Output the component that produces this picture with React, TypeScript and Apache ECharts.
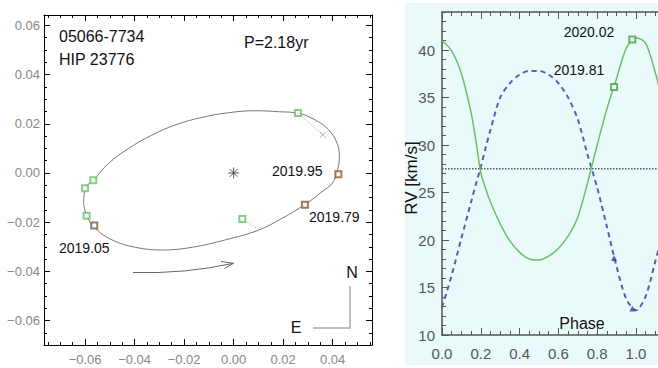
import React, { useEffect, useRef } from 'react';
import * as echarts from 'echarts';

// ---------- Orbit panel data (arcsec) ----------
const orbitX = [-0.0606, -0.0599, -0.0566, -0.0505, -0.0424, -0.0330, -0.0236, -0.0128, -0.0020, 0.0088, 0.0182, 0.0260, 0.0330, 0.0384, 0.0418, 0.0427, 0.0418, 0.0398, 0.0357, 0.0290, 0.0196, 0.0101, -0.0034, -0.0168, -0.0289, -0.0397, -0.0491, -0.0559, -0.0592, -0.0606];
const orbitY = [-0.0123, -0.0062, -0.0028, 0.0039, 0.0100, 0.0154, 0.0195, 0.0226, 0.0245, 0.0253, 0.0249, 0.0243, 0.0215, 0.0175, 0.0121, 0.0066, 0.0005, -0.0042, -0.0076, -0.0127, -0.0184, -0.0232, -0.0272, -0.0302, -0.0313, -0.0302, -0.0272, -0.0225, -0.0178, -0.0123];
const greenObsX = [-0.0567, -0.0600, -0.0594, 0.0260, 0.0035];
const greenObsY = [-0.0030, -0.0062, -0.0174, 0.0244, -0.0187];
const brownObsX = [-0.0563, 0.0288, 0.0423];
const brownObsY = [-0.0213, -0.0129, -0.0005];
const crossObsX = [0.0360];
const crossObsY = [0.0155];
const residFromX = [0.0260, 0.0035];
const residFromY = [0.0244, -0.0187];
const residToX = [0.0360, 0.0101];
const residToY = [0.0155, -0.0229];
const orbitTicks = [-0.06, -0.04, -0.02, 0, 0.02, 0.04, 0.06];

// ---------- RV panel data ----------
const rvPhase = [0, 0.05, 0.10, 0.15, 0.175, 0.20, 0.225, 0.25, 0.30, 0.35, 0.40, 0.45, 0.50, 0.55, 0.60, 0.65, 0.70, 0.75, 0.80, 0.85, 0.90, 0.95, 1.00, 1.05, 1.10, 1.12];
const primaryRV = [41.0, 39.9, 37.5, 33.4, 30.4, 27.1, 25.4, 24.0, 21.7, 19.9, 18.7, 18.0, 17.9, 18.3, 19.1, 20.4, 22.4, 26.0, 30.0, 33.8, 37.0, 40.2, 41.3, 40.7, 37.6, 36.0];
const secondaryRV = [12.9, 16.3, 20.2, 24.0, 25.9, 27.7, 29.7, 31.6, 35.0, 36.5, 37.4, 37.8, 37.8, 37.4, 36.5, 35.0, 32.7, 29.0, 25.5, 21.4, 17.2, 13.8, 12.6, 14.1, 17.8, 19.3];
const primaryObsPhase = [0.887, 0.981];
const primaryObsRV = [36.1, 41.1];
const secondaryObsPhase = [0.887, 0.981];
const secondaryObsRV = [18.1, 12.8];
const gammaRV = 27.5;
const rvPhaseTicks = [0, 0.2, 0.4, 0.6, 0.8, 1.0];
const rvTicks = [10, 15, 20, 25, 30, 35, 40];

const FONT = 'Liberation Sans, Arial, Helvetica, sans-serif';

function minorsOf(major: number[], parts: number): number[] {
  const out: number[] = [];
  for (let i = 0; i < major.length - 1; i++) {
    const step = (major[i + 1] - major[i]) / parts;
    for (let k = 1; k < parts; k++) out.push(+(major[i] + k * step).toFixed(6));
  }
  const s0 = (major[1] - major[0]) / parts;
  for (let k = 1; k < parts; k++) {
    out.push(+(major[0] - k * s0).toFixed(6));
    out.push(+(major[major.length - 1] + k * s0).toFixed(6));
  }
  return out;
}

const pairs = (xs: number[], ys: number[]) => xs.map((x, i) => [x, ys[i]]);

const orbitFmt = (v: number) => (v < -1e-9 ? '\u2212' : '') + Math.abs(v).toFixed(2);

function mkAxis(o: any) {
  const { gridIndex, position, min, max, values, length, label, line, color, width } = o;
  return {
    type: 'value',
    gridIndex,
    position,
    min,
    max,
    axisLine: { show: line, onZero: false, lineStyle: { color, width: width || 1 } },
    axisTick: { show: true, inside: true, length, customValues: values, lineStyle: { color, width: 1 } },
    axisLabel: label ? { ...label, customValues: values } : { show: false },
    splitLine: { show: false },
    minorTick: { show: false },
  };
}

export default function App() {
  const ref = useRef<HTMLDivElement>(null);
  useEffect(() => {
    if (!ref.current) return;
    const chart = echarts.init(ref.current, null, { renderer: 'svg' });
    const oxMin = -0.0766, oxMax = 0.0559, oyMin = -0.0699, oyMax = 0.0642;
    const rxMax = 1.1134;
    const oMinor = minorsOf(orbitTicks, 4);
    const rxMinor = minorsOf(rvPhaseTicks, 4);
    const ryMinor = minorsOf(rvTicks, 5);
    const orbitLabel = (axisIsX: boolean) => ({
      show: true, color: '#888', fontSize: 13, fontFamily: FONT, margin: axisIsX ? 8 : 4, formatter: orbitFmt,
    });

    const xAxes = [
      mkAxis({ gridIndex: 0, position: 'bottom', min: oxMin, max: oxMax, values: orbitTicks, length: 6, label: orbitLabel(true), line: true, color: '#000' }),
      mkAxis({ gridIndex: 0, position: 'bottom', min: oxMin, max: oxMax, values: oMinor, length: 3, label: null, line: false, color: '#000' }),
      mkAxis({ gridIndex: 0, position: 'top', min: oxMin, max: oxMax, values: orbitTicks, length: 6, label: null, line: true, color: '#000' }),
      mkAxis({ gridIndex: 0, position: 'top', min: oxMin, max: oxMax, values: oMinor, length: 3, label: null, line: false, color: '#000' }),
      mkAxis({ gridIndex: 1, position: 'bottom', min: 0, max: rxMax, values: rvPhaseTicks, length: 7, label: { show: true, color: '#555', fontSize: 15, fontFamily: FONT, margin: 11, formatter: (v: number) => v.toFixed(1) }, line: true, color: '#555', width: 1.5 }),
      mkAxis({ gridIndex: 1, position: 'bottom', min: 0, max: rxMax, values: rxMinor, length: 4, label: null, line: false, color: '#555' }),
      mkAxis({ gridIndex: 1, position: 'top', min: 0, max: rxMax, values: rvPhaseTicks, length: 7, label: null, line: true, color: '#555', width: 1.5 }),
      mkAxis({ gridIndex: 1, position: 'top', min: 0, max: rxMax, values: rxMinor, length: 4, label: null, line: false, color: '#555' }),
    ];
    const yAxes = [
      mkAxis({ gridIndex: 0, position: 'left', min: oyMin, max: oyMax, values: orbitTicks, length: 6, label: orbitLabel(false), line: true, color: '#000' }),
      mkAxis({ gridIndex: 0, position: 'left', min: oyMin, max: oyMax, values: oMinor, length: 3, label: null, line: false, color: '#000' }),
      mkAxis({ gridIndex: 0, position: 'right', min: oyMin, max: oyMax, values: orbitTicks, length: 6, label: null, line: true, color: '#000' }),
      mkAxis({ gridIndex: 0, position: 'right', min: oyMin, max: oyMax, values: oMinor, length: 3, label: null, line: false, color: '#000' }),
      mkAxis({ gridIndex: 1, position: 'left', min: 10, max: 44, values: rvTicks, length: 7, label: { show: true, color: '#555', fontSize: 15, fontFamily: FONT, margin: 7 }, line: true, color: '#555', width: 1.5 }),
      mkAxis({ gridIndex: 1, position: 'left', min: 10, max: 44, values: ryMinor, length: 4, label: null, line: false, color: '#555' }),
    ];

    const green = '#66c266';
    const brown = '#8a5a30';
    const blue = '#5560b0';

    const txt = (text: string, x: number, y: number, size: number, align = 'left', extra: any = {}) => ({
      type: 'text', x, y, z: 50, silent: true, ...extra,
      style: { text, fill: '#111', font: `${size}px ${FONT}`, textAlign: align, textVerticalAlign: 'middle' },
    });

    chart.setOption({
      animation: false,
      backgroundColor: '#ffffff',
      grid: [
        { left: 44, top: 15, width: 328, height: 330, containLabel: false },
        { left: 442, top: 12, width: 216, height: 323, containLabel: false },
      ],
      xAxis: xAxes,
      yAxis: yAxes,
      graphic: [
        { type: 'rect', z: -10, silent: true, shape: { x: 405, y: 3, width: 260, height: 362 }, style: { fill: '#eafafa' } },
        txt('05066-7734', 59, 36, 16),
        txt('HIP 23776', 59, 59, 16),
        txt('P=2.18yr', 244, 42, 16),
        txt('2019.95', 272, 171, 14),
        txt('2019.79', 309, 217, 14),
        txt('2019.05', 59, 248, 14),
        { type: 'bezierCurve', z: 50, silent: true, shape: { x1: 133, y1: 272.5, cpx1: 185, cpy1: 274, x2: 233.5, y2: 263.3 }, style: { stroke: '#666', fill: 'none', lineWidth: 1 } },
        { type: 'polyline', z: 50, silent: true, shape: { points: [[221, 261.5], [233.5, 263.3], [224.5, 268.5]] }, style: { stroke: '#666', fill: 'none', lineWidth: 1 } },
        txt('N', 352, 272, 16, 'center'),
        txt('E', 296, 327, 16, 'center'),
        { type: 'polyline', z: 50, silent: true, shape: { points: [[350, 286], [350, 328], [313, 328]] }, style: { stroke: '#aaa', fill: 'none', lineWidth: 1.5 } },
        txt('2020.02', 589, 32, 14, 'center'),
        txt('2019.81', 579, 70, 14, 'center'),
        txt('Phase', 582, 323, 16, 'center'),
        txt('RV [km/s]', 411, 178, 17, 'center', { rotation: Math.PI / 2 }),
      ],
      series: [
        { type: 'line', xAxisIndex: 0, yAxisIndex: 0, data: pairs(orbitX, orbitY), smooth: 0.4, symbol: 'none', lineStyle: { color: '#777', width: 1 }, z: 3 },
        ...residFromX.map((_, i) => ({
          type: 'line', xAxisIndex: 0, yAxisIndex: 0,
          data: [[residFromX[i], residFromY[i]], [residToX[i], residToY[i]]],
          symbol: 'none', lineStyle: { color: green, width: 1, type: [1, 2] }, z: 3,
        })),
        { type: 'scatter', xAxisIndex: 0, yAxisIndex: 0, data: pairs(greenObsX, greenObsY), symbol: 'emptyRect', symbolSize: 6, itemStyle: { color: green, borderColor: green, borderWidth: 1 }, z: 5 },
        { type: 'scatter', xAxisIndex: 0, yAxisIndex: 0, data: pairs(brownObsX, brownObsY), symbol: 'emptyRect', symbolSize: 6, itemStyle: { color: brown, borderColor: brown, borderWidth: 1 }, z: 5 },
        { type: 'scatter', xAxisIndex: 0, yAxisIndex: 0, data: pairs(crossObsX, crossObsY), symbol: 'path://M0,0L10,10M10,0L0,10', symbolSize: 6, itemStyle: { color: 'none', borderColor: green, borderWidth: 1 }, z: 5 },
        { type: 'scatter', xAxisIndex: 0, yAxisIndex: 0, data: [[0, 0]], symbol: 'path://M0,5L10,5M5,0L5,10M1.5,1.5L8.5,8.5M1.5,8.5L8.5,1.5', symbolSize: 11, itemStyle: { color: 'none', borderColor: '#333', borderWidth: 1 }, z: 5 },

        { type: 'line', xAxisIndex: 4, yAxisIndex: 4, data: [[0, gammaRV], [rxMax, gammaRV]], symbol: 'none', lineStyle: { color: '#556', width: 1.5, type: [1.5, 1.5] }, z: 3 },
        { type: 'line', xAxisIndex: 4, yAxisIndex: 4, data: pairs(rvPhase, secondaryRV), smooth: 0.3, symbol: 'none', lineStyle: { color: blue, width: 2, type: [5, 4] }, z: 4 },
        { type: 'line', xAxisIndex: 4, yAxisIndex: 4, data: pairs(rvPhase, primaryRV), smooth: 0.3, symbol: 'none', lineStyle: { color: green, width: 1.5 }, z: 4 },
        { type: 'scatter', xAxisIndex: 4, yAxisIndex: 4, data: pairs(primaryObsPhase, primaryObsRV), symbol: 'emptyRect', symbolSize: 6, itemStyle: { color: '#4a9a4a', borderColor: '#4a9a4a', borderWidth: 1.5 }, z: 6 },
        { type: 'scatter', xAxisIndex: 4, yAxisIndex: 4, data: pairs(secondaryObsPhase, secondaryObsRV), symbol: 'triangle', symbolSize: 6, itemStyle: { color: '#3344aa' }, z: 6 },
      ],
    });
    return () => chart.dispose();
  }, []);
  return <div ref={ref} style={{ position: 'fixed', left: 0, top: 0, width: 658, height: 368 }} />;
}
